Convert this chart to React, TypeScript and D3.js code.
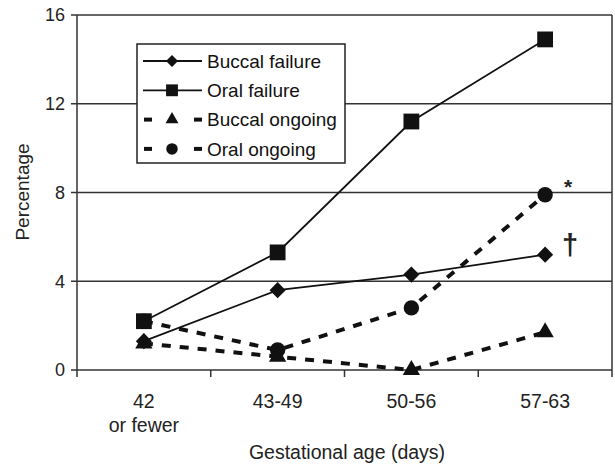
import * as d3 from "d3";

const categories = ["42", "43-49", "50-56", "57-63"];
const buccalFailure = [1.3, 3.6, 4.3, 5.2];
const oralFailure = [2.2, 5.3, 11.2, 14.9];
const buccalOngoing = [1.2, 0.6, 0.0, 1.7];
const oralOngoing = [2.2, 0.9, 2.8, 7.9];
const yTicks = [0, 4, 8, 12, 16];

const width = 615;
const height = 465;
const margin = { top: 15, right: 3, bottom: 95, left: 77 };
const font = "'Liberation Sans', Arial, sans-serif";

const series = [
  { name: "Buccal failure", values: buccalFailure, symbol: d3.symbolDiamond2, size: 165, dashed: false },
  { name: "Oral ongoing", values: oralOngoing, symbol: d3.symbolCircle, size: 185, dashed: true },
  { name: "Oral failure", values: oralFailure, symbol: d3.symbolSquare, size: 250, dashed: false },
  { name: "Buccal ongoing", values: buccalOngoing, symbol: d3.symbolTriangle, size: 130, dashed: true },
];
const legendOrder = ["Buccal failure", "Oral failure", "Buccal ongoing", "Oral ongoing"];

export default function App() {
  const x = d3
    .scaleBand()
    .domain(categories)
    .range([margin.left, width - margin.right]);
  const y = d3
    .scaleLinear()
    .domain([0, 16])
    .range([height - margin.bottom, margin.top]);
  const cx = (c: string) => (x(c) ?? 0) + x.bandwidth() / 2;
  const line = d3
    .line<number>()
    .x((_, i) => cx(categories[i]))
    .y((d) => y(d));

  const lg = { x: 137, y: 44, w: 208, h: 119 };

  return (
    <svg
      width={width}
      height={height}
      style={{ position: "absolute", left: 0, top: 0, background: "#fff" }}
      fontFamily={font}
    >
      {/* gridlines */}
      {yTicks.map((t) => (
        <g key={t}>
          <line x1={margin.left - 6} x2={width - margin.right} y1={y(t)} y2={y(t)} stroke="#333" strokeWidth={1.5} />
          <text x={margin.left - 12} y={y(t)} dy="0.35em" textAnchor="end" fontSize={18} fill="#222">
            {t}
          </text>
        </g>
      ))}
      {/* frame */}
      <line x1={margin.left} x2={margin.left} y1={margin.top} y2={y(0)} stroke="#333" strokeWidth={1.5} />
      <line x1={width - margin.right} x2={width - margin.right} y1={margin.top} y2={y(0) + 7} stroke="#333" strokeWidth={1.5} />
      {/* x ticks */}
      {categories.map((c) => (
        <line key={c} x1={x(c)} x2={x(c)} y1={y(0)} y2={y(0) + 7} stroke="#333" strokeWidth={1.5} />
      ))}
      {categories.map((c) => (
        <text key={c} x={cx(c)} y={408} textAnchor="middle" fontSize={19.5} fill="#222">
          {c}
        </text>
      ))}
      <text x={cx("42")} y={432} textAnchor="middle" fontSize={19.5} fill="#222">
        or fewer
      </text>
      <text x={347} y={459} textAnchor="middle" fontSize={19.5} fill="#222">
        Gestational age (days)
      </text>
      <text transform="translate(29,192) rotate(-90)" textAnchor="middle" fontSize={19} fill="#222">
        Percentage
      </text>

      {/* series lines */}
      {series.map((s) => (
        <path
          key={s.name}
          d={line(s.values) ?? ""}
          fill="none"
          stroke="#111"
          strokeWidth={s.dashed ? 4 : 1.8}
          strokeDasharray={s.dashed ? "9,9" : undefined}
        />
      ))}
      {/* markers */}
      {series.map((s) =>
        s.values.map((v, i) => (
          <path
            key={s.name + i}
            d={d3.symbol().type(s.symbol).size(s.size)() ?? ""}
            transform={`translate(${cx(categories[i])},${y(v)})`}
            fill="#111"
          />
        ))
      )}

      {/* annotations */}
      <text x={568} y={194} textAnchor="middle" fontSize={21} fontWeight="bold" fill="#222">
        *
      </text>
      <text x={570} y={255} textAnchor="middle" fontSize={29} fontWeight="bold" fill="#222">
        †
      </text>

      {/* legend */}
      <rect x={lg.x} y={lg.y} width={lg.w} height={lg.h} fill="#fff" stroke="#222" strokeWidth={1.5} />
      {legendOrder.map((name, i) => {
        const s = series.find((d) => d.name === name)!;
        const ly = 61 + i * 29.3;
        return (
          <g key={name}>
            {s.dashed ? (
              <g>
                <line x1={144} x2={152} y1={ly} y2={ly} stroke="#111" strokeWidth={4} />
                <line x1={194} x2={202} y1={ly} y2={ly} stroke="#111" strokeWidth={4} />
              </g>
            ) : (
              <line x1={143} x2={202} y1={ly} y2={ly} stroke="#111" strokeWidth={1.8} />
            )}
            <path
              d={d3.symbol().type(s.symbol).size(s.size * 0.56)() ?? ""}
              transform={`translate(172,${ly})`}
              fill="#111"
            />
            <text x={207} y={ly} dy="0.35em" fontSize={19} fill="#111">
              {name}
            </text>
          </g>
        );
      })}
    </svg>
  );
}
